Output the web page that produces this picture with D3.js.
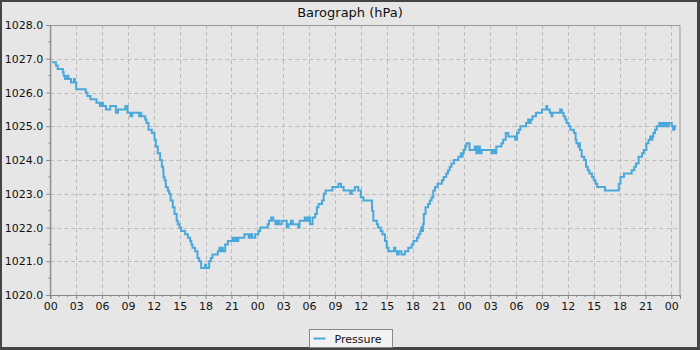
<!DOCTYPE html>
<html>
<head>
<meta charset="utf-8">
<title>Barograph (hPa)</title>
<script src="https://cdn.jsdelivr.net/npm/d3@7"></script>
<style>
  body { margin: 0; background: #fff; }
  svg { display: block; font-family: "DejaVu Sans", sans-serif; }
</style>
</head>
<body>
<div id="chart"></div>
<script>
// hours since the first midnight, and the reading from that moment on
var hours = [
  0.2, 0.65, 0.85, 1.45, 1.55, 1.7, 1.95, 2.1, 2.4, 2.75, 2.85, 3.0, 4.1, 4.3, 4.65, 5.35, 5.75, 5.95, 6.1, 6.45,
  6.95, 7.6, 7.85, 8.7, 8.95, 9.3, 9.5, 10.3, 10.4, 10.55, 11.0, 11.15, 11.38, 11.77,
  12.08, 12.23, 12.46, 12.73, 12.93, 13.08, 13.12, 13.24, 13.39, 13.62, 13.78, 13.95, 14.2, 14.4, 14.65, 14.78,
  14.98, 15.17, 15.63, 15.94, 16.21, 16.35, 16.48, 16.79, 17.06, 17.26, 17.49, 17.95, 18.07, 18.42, 18.61, 18.8,
  19.42, 19.6, 19.7, 19.9, 20.0, 20.27, 20.58, 21.12, 21.3, 21.5, 21.6, 21.8, 22.5, 23.0, 23.2, 23.4, 23.75, 24.14, 24.33,
  25.2, 25.35, 25.6, 25.85, 26.1, 26.3, 26.5, 26.8, 27.4, 27.6, 27.9, 28.1, 28.75, 28.9, 29.5, 29.7, 29.9, 30.1,
  30.4, 30.7, 30.9, 31.1, 31.5, 31.7, 31.9, 32.7, 33.4, 33.7, 34.0, 34.75, 34.95, 35.3, 35.7, 36.0, 36.3, 37.3,
  37.45, 37.85, 38.0, 38.3, 38.5, 38.8, 39.0, 39.2, 39.85, 40.0, 40.2, 40.4, 40.7, 41.1, 41.5, 41.9, 42.1, 42.5,
  42.7, 42.9, 43.0, 43.1, 43.2, 43.3, 43.5, 43.8, 44.0, 44.2, 44.4, 44.6, 44.9, 45.4, 45.6, 45.9, 46.1, 46.3,
  46.5, 46.8, 47.3, 47.6, 47.7, 47.8, 47.9, 48.1, 48.25, 48.6, 49.2, 49.4, 49.6, 49.8, 50.0, 51.2, 51.4, 51.5,
  51.7, 52.3, 52.5, 52.8, 53.1, 53.9, 54.1, 54.3, 54.5, 55.15, 55.4, 55.6, 55.7, 55.9, 56.3, 57.0, 57.5, 57.6,
  57.9, 58.1, 58.2, 59.1, 59.3, 59.5, 59.7, 59.85, 60.1, 60.3, 60.7, 60.9, 61.0, 61.2, 61.3, 61.4, 61.6, 61.9,
  62.1, 62.3, 62.5, 62.8, 63.0, 63.2, 63.4, 64.3, 65.9, 66.1, 66.5, 67.4, 67.7, 67.9, 68.2, 68.6, 68.8, 69.1,
  69.35, 69.55, 69.7, 69.8, 69.9, 70.1, 70.3, 70.6, 70.8, 71.0, 71.2, 71.4, 71.6, 71.7, 72.05, 72.2, 72.3, 72.4
];
var pressure = [
  1026.9, 1026.8, 1026.7, 1026.6, 1026.5, 1026.4, 1026.5, 1026.4, 1026.3, 1026.4, 1026.3, 1026.1, 1026.0, 1025.9, 1025.8, 1025.7, 1025.6, 1025.7, 1025.6, 1025.5,
  1025.6, 1025.4, 1025.5, 1025.6, 1025.4, 1025.3, 1025.4, 1025.3, 1025.4, 1025.3, 1025.2, 1025.1, 1024.9, 1024.8,
  1024.6, 1024.4, 1024.2, 1024.0, 1023.8, 1023.7, 1023.5, 1023.4, 1023.2, 1023.1, 1023.0, 1022.8, 1022.6, 1022.4, 1022.2, 1022.1,
  1022.0, 1021.9, 1021.8, 1021.7, 1021.6, 1021.5, 1021.4, 1021.3, 1021.1, 1021.0, 1020.8, 1020.9, 1020.8, 1021.0, 1021.1, 1021.2,
  1021.3, 1021.4, 1021.3, 1021.4, 1021.3, 1021.5, 1021.6, 1021.7, 1021.6, 1021.7, 1021.6, 1021.7, 1021.8, 1021.7, 1021.8, 1021.7, 1021.8, 1021.9, 1022.0,
  1022.1, 1022.2, 1022.3, 1022.2, 1022.1, 1022.2, 1022.1, 1022.2, 1022.0, 1022.1, 1022.2, 1022.1, 1022.0, 1022.2, 1022.3, 1022.2, 1022.3, 1022.1,
  1022.3, 1022.4, 1022.6, 1022.7, 1022.8, 1023.0, 1023.1, 1023.2, 1023.3, 1023.2, 1023.1, 1023.0, 1023.1, 1023.2, 1023.1, 1022.9, 1022.8, 1022.5,
  1022.2, 1022.1, 1022.0, 1021.9, 1021.8, 1021.6, 1021.4, 1021.3, 1021.4, 1021.3, 1021.2, 1021.3, 1021.2, 1021.3, 1021.4, 1021.5, 1021.6, 1021.7,
  1021.8, 1021.9, 1022.0, 1021.9, 1022.1, 1022.4, 1022.6, 1022.7, 1022.8, 1022.9, 1023.1, 1023.2, 1023.3, 1023.4, 1023.5, 1023.6, 1023.7, 1023.8,
  1023.9, 1024.0, 1024.1, 1024.2, 1024.1, 1024.2, 1024.3, 1024.4, 1024.5, 1024.3, 1024.4, 1024.2, 1024.4, 1024.2, 1024.3, 1024.2, 1024.3, 1024.2,
  1024.4, 1024.5, 1024.6, 1024.8, 1024.7, 1024.6, 1024.8, 1024.9, 1025.0, 1025.1, 1025.2, 1025.1, 1025.2, 1025.3, 1025.4, 1025.5, 1025.6, 1025.5,
  1025.4, 1025.3, 1025.4, 1025.5, 1025.4, 1025.3, 1025.2, 1025.1, 1025.0, 1024.9, 1024.8, 1024.6, 1024.5, 1024.4, 1024.5, 1024.3, 1024.1, 1024.0,
  1023.8, 1023.7, 1023.6, 1023.5, 1023.4, 1023.3, 1023.2, 1023.1, 1023.3, 1023.5, 1023.6, 1023.7, 1023.8, 1023.9, 1024.1, 1024.2, 1024.3, 1024.5,
  1024.6, 1024.7, 1024.6, 1024.7, 1024.8, 1024.9, 1025.0, 1025.1, 1025.0, 1025.1, 1025.0, 1025.1, 1025.0, 1025.1, 1025.0, 1024.9, 1025.0, 1024.9
];
var yTicks = [1020, 1021, 1022, 1023, 1024, 1025, 1026, 1027, 1028];
var xTicks = d3.range(0, 73, 3);       // every 3 hours, labelled by hour of day
var seriesName = "Pressure";
var title = "Barograph (hPa)";

var W = 700, H = 350;
var padL = 50.3, padR = 680, padT = 25, padB = 295;

var svg = d3.select("#chart").append("svg").attr("width", W).attr("height", H);

// frame + background
svg.append("rect").attr("width", W).attr("height", H).attr("fill", "#444");
svg.append("rect").attr("x", 2).attr("y", 2).attr("width", W - 5).attr("height", H - 5).attr("fill", "#e6e6e6");

var x = d3.scaleLinear().domain([0, 73]).range([padL, padR]);
var y = d3.scaleLinear().domain([1020, 1028]).range([padB, padT]);

svg.append("text").attr("x", W / 2).attr("y", 17).attr("text-anchor", "middle")
  .attr("font-size", 13).attr("fill", "#111").text(title);

// grid
var grid = svg.append("g").attr("stroke", "#bcbcbc").attr("stroke-width", 1).attr("stroke-dasharray", "4,3");
grid.selectAll("line.h").data(yTicks.slice(1)).enter().append("line")
  .attr("x1", padL).attr("x2", padR).attr("y1", d => Math.round(y(d)) + 0.5).attr("y2", d => Math.round(y(d)) + 0.5);
grid.selectAll("line.v").data(xTicks.slice(1)).enter().append("line")
  .attr("x1", d => Math.round(x(d)) + 0.5).attr("x2", d => Math.round(x(d)) + 0.5).attr("y1", padT).attr("y2", padB);

// plot outline
svg.append("rect").attr("x", padL).attr("y", padT + 0.5).attr("width", padR - padL).attr("height", padB - padT)
  .attr("fill", "none").attr("stroke", "#999");

// series
svg.append("clipPath").attr("id", "clip").append("rect")
  .attr("x", padL).attr("y", padT).attr("width", padR - padL).attr("height", padB - padT);
var pts = hours.map((h, i) => [h, pressure[i]]);
var line = d3.line().x(d => x(d[0])).y(d => y(d[1])).curve(d3.curveStepAfter);
svg.append("path").datum(pts).attr("clip-path", "url(#clip)")
  .attr("d", line).attr("fill", "none").attr("stroke", "#4aa8da").attr("stroke-width", 2);

// y axis
var yAxis = d3.axisLeft(y).tickValues(yTicks).tickFormat(d3.format(".1f")).tickSize(4).tickPadding(3);
var gy = svg.append("g").attr("transform", "translate(" + padL + ",0)").call(yAxis);
gy.selectAll("line.minor").data(d3.range(1020.5, 1028, 1)).enter().append("line")
  .attr("x1", -2).attr("x2", 0).attr("y1", d => y(d)).attr("y2", d => y(d)).attr("stroke", "#888");

// x axis
var xAxis = d3.axisBottom(x).tickValues(xTicks).tickFormat(d => d3.format("02d")(d % 24)).tickSize(4).tickPadding(3);
var gx = svg.append("g").attr("transform", "translate(0," + padB + ")").call(xAxis);
gx.selectAll("line.minor").data(d3.range(0, 74, 1).filter(d => d % 3)).enter().append("line")
  .attr("x1", d => x(d)).attr("x2", d => x(d)).attr("y1", 0).attr("y2", 2).attr("stroke", "#888");

[gx, gy].forEach(function (g) {
  g.select(".domain").attr("stroke", "#888");
  g.selectAll(".tick line").attr("stroke", "#888");
  g.selectAll(".tick text").attr("fill", "#111").attr("font-size", 11).attr("font-family", "DejaVu Sans");
});

// legend
var lg = svg.append("g").attr("transform", "translate(309.5,329.5)");
lg.append("rect").attr("width", 83).attr("height", 18).attr("fill", "#f2f2f2").attr("stroke", "#888");
lg.append("line").attr("x1", 4).attr("x2", 16).attr("y1", 9).attr("y2", 9).attr("stroke", "#4aa8da").attr("stroke-width", 2);
lg.append("text").attr("x", 25).attr("y", 13).attr("font-size", 11).attr("fill", "#111").text(seriesName);
</script>
</body>
</html>
